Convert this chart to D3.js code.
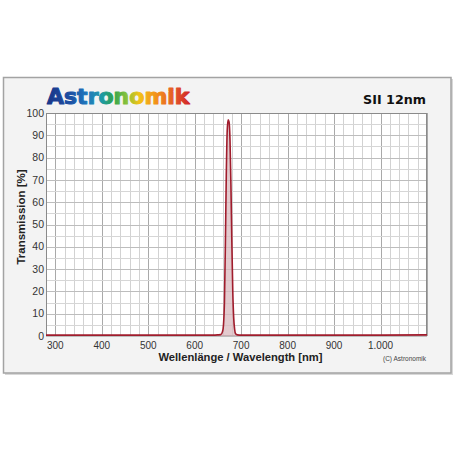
<!DOCTYPE html>
<html><head><meta charset="utf-8">
<script src="https://cdn.jsdelivr.net/npm/d3@7"></script>
<style>html,body{margin:0;padding:0;background:#fff;}svg{display:block;}</style>
</head><body>
<script>
// ---- data ----
const wavelength = [280, 300, 400, 500, 600, 640, 650, 656, 660, 662, 664, 666, 668, 670, 672, 674, 676, 678, 680, 682, 684, 686, 688, 692, 700, 800, 900, 1000, 1100];
const transmission = [0.4, 0.4, 0.4, 0.4, 0.4, 0.4, 0.5, 0.6, 2, 5, 15, 40, 72, 92, 97, 96, 88, 68, 42, 20, 8, 3, 1, 0.5, 0.4, 0.4, 0.4, 0.4, 0.5];
const xTicks = [300, 400, 500, 600, 700, 800, 900, 1000];
const xTickLabels = ["300", "400", "500", "600", "700", "800", "900", "1.000"];
const yTicks = [0, 10, 20, 30, 40, 50, 60, 70, 80, 90, 100];
const xDomain = [280, 1100];
const yDomain = [0, 100];
const filterName = "SII 12nm";
const brand = "Astronomik";

const W = 455, H = 455;
const svg = d3.select("body").append("svg").attr("width", W).attr("height", H);
const defs = svg.append("defs");
const grad = defs.append("linearGradient").attr("id", "rainbow").attr("x1", "0%").attr("x2", "100%").attr("y1", "0%").attr("y2", "0%");
[["0%", "#1a3588"], ["16%", "#1d4fa3"], ["28%", "#1f78bd"], ["38%", "#1e9aa8"], ["46%", "#2ea24e"], ["55%", "#86c23a"], ["64%", "#f2c216"], ["76%", "#f2901a"], ["88%", "#e45a28"], ["100%", "#cf2229"]]
  .forEach(([o, c]) => grad.append("stop").attr("offset", o).attr("stop-color", c));

// frame
svg.append("rect").attr("x", 5).attr("y", 79).attr("width", 448).attr("height", 296).attr("fill", "#d8d8d8");
svg.append("rect").attr("x", 3.5).attr("y", 77.5).attr("width", 447.5).attr("height", 295.5)
  .attr("fill", "#f3f3f3").attr("stroke", "#a3a3a3").attr("stroke-width", 1.5);

const m = {left: 46, right: 427, top: 113, bottom: 336};
const x = d3.scaleLinear().domain(xDomain).range([m.left, m.right]);
const y = d3.scaleLinear().domain(yDomain).range([m.bottom, m.top]);

svg.append("rect").attr("x", m.left).attr("y", m.top).attr("width", m.right - m.left).attr("height", m.bottom - m.top).attr("fill", "#fff");

const g = svg.append("g");
const vMinor = d3.range(xDomain[0], xDomain[1] + 1, 20);
g.selectAll("line.vg").data(vMinor).join("line")
  .attr("x1", d => Math.round(x(d)) + 0.5).attr("x2", d => Math.round(x(d)) + 0.5)
  .attr("y1", m.top).attr("y2", m.bottom)
  .attr("stroke", d => (d % 100 === 0) ? "#a9a9a9" : "#d2d2d2").attr("stroke-width", 1);
const hMinor = d3.range(0, 101, 5);
g.selectAll("line.hg").data(hMinor).join("line")
  .attr("x1", m.left).attr("x2", m.right)
  .attr("y1", d => Math.round(y(d)) + 0.5).attr("y2", d => Math.round(y(d)) + 0.5)
  .attr("stroke", d => (d % 10 === 0) ? "#bdbdbd" : "#d6d6d6").attr("stroke-width", 1);

svg.append("rect").attr("x", m.left + 0.5).attr("y", m.top + 0.5).attr("width", m.right - m.left - 1).attr("height", m.bottom - m.top - 1)
  .attr("fill", "none").attr("stroke", "#8a8a8a").attr("stroke-width", 1);

// curve
const pts = wavelength.map((w, i) => [w, transmission[i]]);
const area = d3.area().x(d => x(d[0])).y0(y(0)).y1(d => y(d[1])).curve(d3.curveMonotoneX);
const line = d3.line().x(d => x(d[0])).y(d => y(d[1])).curve(d3.curveMonotoneX);
svg.append("path").datum(pts).attr("d", area).attr("fill", "#d9b8bd").attr("fill-opacity", 0.75);
svg.append("path").datum(pts).attr("d", line).attr("fill", "none").attr("stroke", "#a01c2c").attr("stroke-width", 1.6);

// axes labels
const tickFont = "'Liberation Sans', Arial, sans-serif";
svg.append("g").selectAll("text").data(yTicks).join("text")
  .attr("x", 44).attr("y", d => y(d)).attr("dy", "0.35em").attr("text-anchor", "end")
  .attr("font-family", tickFont).attr("font-size", 10.5).attr("fill", "#333").text(d => d);
svg.append("g").selectAll("text").data(xTicks).join("text")
  .attr("x", d => x(d)).attr("y", 348.5).attr("text-anchor", "middle")
  .attr("font-family", tickFont).attr("font-size", 10).attr("fill", "#333").text((d, i) => xTickLabels[i]);

svg.append("text").attr("transform", "translate(25,217) rotate(-90)").attr("text-anchor", "middle")
  .attr("font-family", tickFont).attr("font-weight", "bold").attr("font-size", 11.5).attr("fill", "#222")
  .text("Transmission [%]");
svg.append("text").attr("x", 240.5).attr("y", 361).attr("text-anchor", "middle")
  .attr("font-family", tickFont).attr("font-weight", "bold").attr("font-size", 11.2).attr("fill", "#222")
  .text("Wellenlänge / Wavelength [nm]");
svg.append("text").attr("x", 426).attr("y", 360.5).attr("text-anchor", "end")
  .attr("font-family", tickFont).attr("font-size", 6.5).attr("fill", "#444")
  .text("(C) Astronomik");

// titles
svg.append("text").attr("x", 47).attr("y", 104).attr("font-family", "'DejaVu Sans', sans-serif")
  .attr("font-weight", "bold").attr("font-size", 22).attr("fill", "url(#rainbow)")
  .attr("stroke", "url(#rainbow)").attr("stroke-width", 1.1).attr("stroke-linejoin", "round").text(brand);
svg.append("text").attr("x", 426).attr("y", 104).attr("text-anchor", "end").attr("font-family", "'DejaVu Sans', sans-serif")
  .attr("font-weight", "bold").attr("font-size", 12.7).attr("fill", "#111").text(filterName);
</script>
</body></html>
